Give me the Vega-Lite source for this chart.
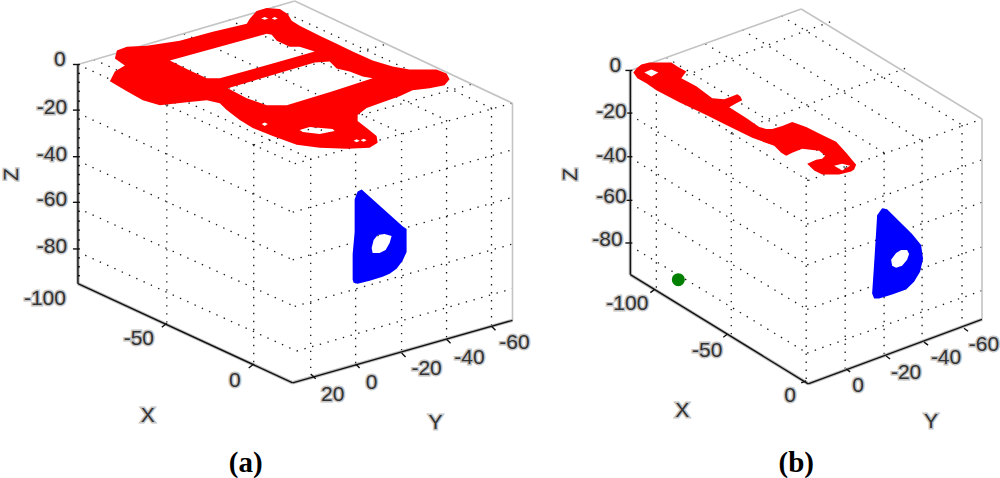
{"$schema":"https://vega.github.io/schema/vega-lite/v6.json","width":1000,"height":478,"padding":0,"autosize":{"type":"fit","contains":"padding"},"background":"white","config":{"view":{"stroke":null}},
"datasets":{
"seg":[
{"kind":"grid","h":78,"v":61,"h2":295,"v2":161},{"kind":"grid","h":78,"v":110,"h2":293,"v2":210},{"kind":"grid","h":78,"v":158,"h2":293,"v2":258},{"kind":"grid","h":78,"v":206,"h2":295,"v2":305},{"kind":"grid","h":78,"v":250,"h2":297,"v2":350},
{"kind":"grid","h":295,"v":161,"h2":513,"v2":100},{"kind":"grid","h":293,"v":210,"h2":513,"v2":147},{"kind":"grid","h":293,"v":258,"h2":513,"v2":195},{"kind":"grid","h":295,"v":305,"h2":513,"v2":242},{"kind":"grid","h":297,"v":350,"h2":513,"v2":287},
{"kind":"grid","h":167,"v":102,"h2":167,"v2":322},{"kind":"grid","h":254,"v":142,"h2":254,"v2":363},{"kind":"grid","h":311,"v":156,"h2":311,"v2":373},{"kind":"grid","h":356,"v":143,"h2":356,"v2":363},{"kind":"grid","h":402,"v":130,"h2":402,"v2":352},{"kind":"grid","h":447,"v":117,"h2":447,"v2":338},{"kind":"grid","h":492,"v":105,"h2":492,"v2":325},
{"kind":"grid","h":167,"v":102,"h2":385,"v2":41},{"kind":"grid","h":254,"v":142,"h2":472,"v2":81},{"kind":"grid","h":94,"v":56,"h2":311,"v2":156},{"kind":"grid","h":139,"v":43,"h2":356,"v2":143},{"kind":"grid","h":184,"v":30,"h2":402,"v2":130},{"kind":"grid","h":229,"v":16,"h2":447,"v2":117},{"kind":"grid","h":273,"v":3,"h2":492,"v2":105},
{"kind":"grid","h":631,"v":67,"h2":809,"v2":178},{"kind":"grid","h":631,"v":112,"h2":808,"v2":222},{"kind":"grid","h":631,"v":155,"h2":808,"v2":263},{"kind":"grid","h":631,"v":201,"h2":808,"v2":308},{"kind":"grid","h":631,"v":244,"h2":808,"v2":352},
{"kind":"grid","h":809,"v":178,"h2":983,"v2":116},{"kind":"grid","h":808,"v":222,"h2":983,"v2":157},{"kind":"grid","h":808,"v":263,"h2":983,"v2":200},{"kind":"grid","h":808,"v":308,"h2":983,"v2":245},{"kind":"grid","h":808,"v":352,"h2":983,"v2":289},
{"kind":"grid","h":657,"v":83,"h2":657,"v2":288},{"kind":"grid","h":732,"v":130,"h2":732,"v2":333},{"kind":"grid","h":807,"v":175,"h2":807,"v2":380},{"kind":"grid","h":846,"v":165,"h2":846,"v2":368},{"kind":"grid","h":885,"v":150,"h2":885,"v2":355},{"kind":"grid","h":923,"v":138,"h2":923,"v2":341},{"kind":"grid","h":963,"v":122,"h2":963,"v2":327},
{"kind":"grid","h":657,"v":83,"h2":831,"v2":18},{"kind":"grid","h":732,"v":130,"h2":906,"v2":65},{"kind":"grid","h":667,"v":54,"h2":846,"v2":165},{"kind":"grid","h":706,"v":40,"h2":885,"v2":150},{"kind":"grid","h":743,"v":26,"h2":923,"v2":138},{"kind":"grid","h":782,"v":12,"h2":963,"v2":122},
{"kind":"back","h":78,"v":61,"h2":295,"v2":-3},{"kind":"back","h":295,"v":-3,"h2":513,"v2":100},{"kind":"back","h":513,"v":100,"h2":513,"v2":319},
{"kind":"back","h":631,"v":67,"h2":802,"v2":5},{"kind":"back","h":802,"v":5,"h2":983,"v2":116},{"kind":"back","h":983,"v":116,"h2":983,"v2":318},
{"kind":"axis","h":78,"v":61,"h2":78,"v2":282},{"kind":"axis","h":78,"v":282,"h2":293,"v2":382},{"kind":"axis","h":293,"v":382,"h2":513,"v2":319},
{"kind":"axis","h":631,"v":67,"h2":631,"v2":273},{"kind":"axis","h":631,"v":273,"h2":809,"v2":383},{"kind":"axis","h":809,"v":383,"h2":983,"v2":318},
{"kind":"tick","h":167,"v":322,"h2":162,"v2":326},{"kind":"tick","h":254,"v":363,"h2":249,"v2":367},{"kind":"tick","h":311,"v":373,"h2":316,"v2":378},{"kind":"tick","h":356,"v":363,"h2":360,"v2":367},{"kind":"tick","h":402,"v":352,"h2":406,"v2":356},{"kind":"tick","h":447,"v":338,"h2":451,"v2":342},{"kind":"tick","h":492,"v":325,"h2":496,"v2":329},
{"kind":"tick","h":655,"v":288,"h2":651,"v2":291},{"kind":"tick","h":728,"v":333,"h2":724,"v2":336},{"kind":"tick","h":807,"v":380,"h2":802,"v2":382},{"kind":"tick","h":847,"v":368,"h2":851,"v2":371},{"kind":"tick","h":887,"v":355,"h2":891,"v2":358},{"kind":"tick","h":925,"v":341,"h2":929,"v2":344},{"kind":"tick","h":965,"v":327,"h2":969,"v2":330},
{"kind":"tick","h":73,"v":61,"h2":80,"v2":61},{"kind":"tick","h":73,"v":107,"h2":80,"v2":107},{"kind":"tick","h":73,"v":154,"h2":80,"v2":154},{"kind":"tick","h":73,"v":200,"h2":80,"v2":200},{"kind":"tick","h":73,"v":247,"h2":80,"v2":247},
{"kind":"tick","h":78,"v":70,"h2":80,"v2":70},{"kind":"tick","h":78,"v":79,"h2":80,"v2":79},{"kind":"tick","h":78,"v":88,"h2":80,"v2":88},{"kind":"tick","h":78,"v":98,"h2":80,"v2":98},{"kind":"tick","h":78,"v":116,"h2":80,"v2":116},{"kind":"tick","h":78,"v":126,"h2":80,"v2":126},{"kind":"tick","h":78,"v":135,"h2":80,"v2":135},{"kind":"tick","h":78,"v":145,"h2":80,"v2":145},{"kind":"tick","h":78,"v":163,"h2":80,"v2":163},{"kind":"tick","h":78,"v":172,"h2":80,"v2":172},{"kind":"tick","h":78,"v":182,"h2":80,"v2":182},{"kind":"tick","h":78,"v":191,"h2":80,"v2":191},{"kind":"tick","h":78,"v":209,"h2":80,"v2":209},{"kind":"tick","h":78,"v":219,"h2":80,"v2":219},{"kind":"tick","h":78,"v":228,"h2":80,"v2":228},{"kind":"tick","h":78,"v":238,"h2":80,"v2":238},{"kind":"tick","h":78,"v":256,"h2":80,"v2":256},{"kind":"tick","h":78,"v":265,"h2":80,"v2":265},{"kind":"tick","h":78,"v":274,"h2":80,"v2":274},
{"kind":"tick","h":626,"v":67,"h2":633,"v2":67},{"kind":"tick","h":626,"v":110,"h2":633,"v2":110},{"kind":"tick","h":626,"v":154,"h2":633,"v2":154},{"kind":"tick","h":626,"v":198,"h2":633,"v2":198},{"kind":"tick","h":626,"v":241,"h2":633,"v2":241}
],
"shape":[
{"part":"red1","i":0,"h":250,"v":15},{"part":"red1","i":1,"h":257,"v":7},{"part":"red1","i":2,"h":267,"v":4},{"part":"red1","i":3,"h":280,"v":5},{"part":"red1","i":4,"h":288,"v":10},{"part":"red1","i":5,"h":292,"v":17},{"part":"red1","i":6,"h":300,"v":22},{"part":"red1","i":7,"h":320,"v":32},{"part":"red1","i":8,"h":337,"v":40},{"part":"red1","i":9,"h":353,"v":48},{"part":"red1","i":10,"h":373,"v":57},{"part":"red1","i":11,"h":393,"v":63},{"part":"red1","i":12,"h":410,"v":66},{"part":"red1","i":13,"h":437,"v":66},{"part":"red1","i":14,"h":447,"v":70},{"part":"red1","i":15,"h":450,"v":76},{"part":"red1","i":16,"h":445,"v":82},{"part":"red1","i":17,"h":430,"v":85},{"part":"red1","i":18,"h":413,"v":87},{"part":"red1","i":19,"h":400,"v":93},{"part":"red1","i":20,"h":383,"v":99},{"part":"red1","i":21,"h":367,"v":105},{"part":"red1","i":22,"h":358,"v":112},{"part":"red1","i":23,"h":358,"v":118},{"part":"red1","i":24,"h":367,"v":125},{"part":"red1","i":25,"h":377,"v":133},{"part":"red1","i":26,"h":378,"v":140},{"part":"red1","i":27,"h":370,"v":145},{"part":"red1","i":28,"h":347,"v":146},{"part":"red1","i":29,"h":320,"v":145},{"part":"red1","i":30,"h":297,"v":142},{"part":"red1","i":31,"h":273,"v":133},{"part":"red1","i":32,"h":253,"v":125},{"part":"red1","i":33,"h":240,"v":117},{"part":"red1","i":34,"h":227,"v":107},{"part":"red1","i":35,"h":220,"v":100},{"part":"red1","i":36,"h":207,"v":97},{"part":"red1","i":37,"h":187,"v":99},{"part":"red1","i":38,"h":160,"v":102},{"part":"red1","i":39,"h":143,"v":97},{"part":"red1","i":40,"h":127,"v":88},{"part":"red1","i":41,"h":110,"v":78},{"part":"red1","i":42,"h":115,"v":68},{"part":"red1","i":43,"h":125,"v":62},{"part":"red1","i":44,"h":115,"v":55},{"part":"red1","i":45,"h":117,"v":47},{"part":"red1","i":46,"h":127,"v":43},{"part":"red1","i":47,"h":147,"v":42},{"part":"red1","i":48,"h":180,"v":37},{"part":"red1","i":49,"h":213,"v":28},{"part":"red1","i":50,"h":247,"v":20},{"part":"red1","i":51,"h":250,"v":15},
{"part":"red1","i":52,"h":170,"v":57},{"part":"red1","i":53,"h":190,"v":67},{"part":"red1","i":54,"h":207,"v":75},{"part":"red1","i":55,"h":220,"v":75},{"part":"red1","i":56,"h":280,"v":58},{"part":"red1","i":57,"h":315,"v":48},{"part":"red1","i":58,"h":300,"v":43},{"part":"red1","i":59,"h":290,"v":43},{"part":"red1","i":60,"h":277,"v":37},{"part":"red1","i":61,"h":272,"v":31},{"part":"red1","i":62,"h":267,"v":30},{"part":"red1","i":63,"h":170,"v":57},{"part":"red1","i":64,"h":250,"v":15},
{"part":"red1","i":65,"h":228,"v":85},{"part":"red1","i":66,"h":247,"v":95},{"part":"red1","i":67,"h":267,"v":102},{"part":"red1","i":68,"h":287,"v":102},{"part":"red1","i":69,"h":333,"v":88},{"part":"red1","i":70,"h":373,"v":75},{"part":"red1","i":71,"h":363,"v":73},{"part":"red1","i":72,"h":350,"v":68},{"part":"red1","i":73,"h":337,"v":65},{"part":"red1","i":74,"h":330,"v":58},{"part":"red1","i":75,"h":315,"v":59},{"part":"red1","i":76,"h":228,"v":85},{"part":"red1","i":77,"h":250,"v":15},
{"part":"red1","i":78,"h":300,"v":127},{"part":"red1","i":79,"h":303,"v":129},{"part":"red1","i":80,"h":320,"v":131},{"part":"red1","i":81,"h":335,"v":128},{"part":"red1","i":82,"h":333,"v":126},{"part":"red1","i":83,"h":310,"v":124},{"part":"red1","i":84,"h":300,"v":127},{"part":"red1","i":85,"h":250,"v":15},
{"part":"red1","i":86,"h":261.5,"v":14.5},{"part":"red1","i":87,"h":265,"v":16},{"part":"red1","i":88,"h":268.5,"v":14.5},{"part":"red1","i":89,"h":265,"v":13},{"part":"red1","i":90,"h":261.5,"v":14.5},{"part":"red1","i":91,"h":250,"v":15},
{"part":"red1","i":92,"h":272,"v":14.5},{"part":"red1","i":93,"h":275,"v":16},{"part":"red1","i":94,"h":278,"v":14.5},{"part":"red1","i":95,"h":275,"v":13},{"part":"red1","i":96,"h":272,"v":14.5},{"part":"red1","i":97,"h":250,"v":15},
{"part":"red1","i":98,"h":262,"v":121},{"part":"red1","i":99,"h":265,"v":123},{"part":"red1","i":100,"h":268,"v":121},{"part":"red1","i":101,"h":265,"v":119.5},{"part":"red1","i":102,"h":262,"v":121},{"part":"red1","i":103,"h":250,"v":15},
{"part":"red1","i":104,"h":354,"v":138},{"part":"red1","i":105,"h":357,"v":139.5},{"part":"red1","i":106,"h":360,"v":138},{"part":"red1","i":107,"h":357,"v":136.5},{"part":"red1","i":108,"h":354,"v":138},{"part":"red1","i":109,"h":250,"v":15},
{"part":"red1","i":110,"h":361,"v":137.5},{"part":"red1","i":111,"h":364,"v":139},{"part":"red1","i":112,"h":367,"v":137.5},{"part":"red1","i":113,"h":364,"v":136},{"part":"red1","i":114,"h":361,"v":137.5},{"part":"red1","i":115,"h":250,"v":15},
{"part":"red2","i":0,"h":634,"v":69},{"part":"red2","i":1,"h":637,"v":65},{"part":"red2","i":2,"h":642,"v":61},{"part":"red2","i":3,"h":650,"v":59},{"part":"red2","i":4,"h":672,"v":59},{"part":"red2","i":5,"h":678,"v":63},{"part":"red2","i":6,"h":687,"v":68},{"part":"red2","i":7,"h":684,"v":72},{"part":"red2","i":8,"h":682,"v":75},{"part":"red2","i":9,"h":697,"v":83},{"part":"red2","i":10,"h":713,"v":95},{"part":"red2","i":11,"h":725,"v":96},{"part":"red2","i":12,"h":733,"v":93},{"part":"red2","i":13,"h":738,"v":91},{"part":"red2","i":14,"h":741,"v":93},{"part":"red2","i":15,"h":743,"v":97},{"part":"red2","i":16,"h":737,"v":100},{"part":"red2","i":17,"h":730,"v":104},{"part":"red2","i":18,"h":747,"v":115},{"part":"red2","i":19,"h":760,"v":124},{"part":"red2","i":20,"h":767,"v":126},{"part":"red2","i":21,"h":773,"v":126},{"part":"red2","i":22,"h":783,"v":123},{"part":"red2","i":23,"h":793,"v":119},{"part":"red2","i":24,"h":807,"v":124},{"part":"red2","i":25,"h":823,"v":132},{"part":"red2","i":26,"h":837,"v":139},{"part":"red2","i":27,"h":847,"v":150},{"part":"red2","i":28,"h":857,"v":162},{"part":"red2","i":29,"h":855,"v":167},{"part":"red2","i":30,"h":852,"v":169},{"part":"red2","i":31,"h":840,"v":172},{"part":"red2","i":32,"h":823,"v":172},{"part":"red2","i":33,"h":815,"v":168},{"part":"red2","i":34,"h":808,"v":161},{"part":"red2","i":35,"h":817,"v":157},{"part":"red2","i":36,"h":823,"v":156},{"part":"red2","i":37,"h":826,"v":153},{"part":"red2","i":38,"h":820,"v":148},{"part":"red2","i":39,"h":803,"v":146},{"part":"red2","i":40,"h":793,"v":150},{"part":"red2","i":41,"h":787,"v":153},{"part":"red2","i":42,"h":782,"v":150},{"part":"red2","i":43,"h":775,"v":143},{"part":"red2","i":44,"h":753,"v":135},{"part":"red2","i":45,"h":727,"v":122},{"part":"red2","i":46,"h":707,"v":112},{"part":"red2","i":47,"h":680,"v":99},{"part":"red2","i":48,"h":657,"v":87},{"part":"red2","i":49,"h":647,"v":80},{"part":"red2","i":50,"h":638,"v":75},{"part":"red2","i":51,"h":634,"v":69},
{"part":"red2","i":52,"h":645,"v":69},{"part":"red2","i":53,"h":652,"v":73},{"part":"red2","i":54,"h":659,"v":69},{"part":"red2","i":55,"h":652,"v":66},{"part":"red2","i":56,"h":645,"v":69},{"part":"red2","i":57,"h":634,"v":69},
{"part":"red2","i":58,"h":835,"v":163},{"part":"red2","i":59,"h":843,"v":168},{"part":"red2","i":60,"h":851,"v":163},{"part":"red2","i":61,"h":843,"v":161},{"part":"red2","i":62,"h":835,"v":163},{"part":"red2","i":63,"h":634,"v":69},
{"part":"blue1","i":0,"h":362,"v":187},{"part":"blue1","i":1,"h":403,"v":224},{"part":"blue1","i":2,"h":407,"v":227},{"part":"blue1","i":3,"h":407,"v":250},{"part":"blue1","i":4,"h":403,"v":259},{"part":"blue1","i":5,"h":397,"v":267},{"part":"blue1","i":6,"h":390,"v":272},{"part":"blue1","i":7,"h":383,"v":275},{"part":"blue1","i":8,"h":370,"v":279},{"part":"blue1","i":9,"h":358,"v":282},{"part":"blue1","i":10,"h":354,"v":281},{"part":"blue1","i":11,"h":353,"v":278},{"part":"blue1","i":12,"h":353,"v":252},{"part":"blue1","i":13,"h":355,"v":230},{"part":"blue1","i":14,"h":355,"v":197},{"part":"blue1","i":15,"h":358,"v":189},{"part":"blue1","i":16,"h":362,"v":187},
{"part":"blue1","i":17,"h":385,"v":232},{"part":"blue1","i":18,"h":378,"v":233},{"part":"blue1","i":19,"h":374,"v":238},{"part":"blue1","i":20,"h":372,"v":246},{"part":"blue1","i":21,"h":373,"v":251},{"part":"blue1","i":22,"h":380,"v":251},{"part":"blue1","i":23,"h":386,"v":248},{"part":"blue1","i":24,"h":390,"v":241},{"part":"blue1","i":25,"h":392,"v":234},{"part":"blue1","i":26,"h":385,"v":232},{"part":"blue1","i":27,"h":362,"v":187},
{"part":"blue2","i":0,"h":883,"v":206},{"part":"blue2","i":1,"h":888,"v":207},{"part":"blue2","i":2,"h":913,"v":232},{"part":"blue2","i":3,"h":922,"v":243},{"part":"blue2","i":4,"h":924,"v":257},{"part":"blue2","i":5,"h":921,"v":270},{"part":"blue2","i":6,"h":915,"v":280},{"part":"blue2","i":7,"h":907,"v":288},{"part":"blue2","i":8,"h":893,"v":293},{"part":"blue2","i":9,"h":880,"v":297},{"part":"blue2","i":10,"h":875,"v":297},{"part":"blue2","i":11,"h":873,"v":292},{"part":"blue2","i":12,"h":875,"v":262},{"part":"blue2","i":13,"h":877,"v":230},{"part":"blue2","i":14,"h":878,"v":213},{"part":"blue2","i":15,"h":883,"v":206},
{"part":"blue2","i":16,"h":892,"v":258},{"part":"blue2","i":17,"h":893,"v":264},{"part":"blue2","i":18,"h":897,"v":266},{"part":"blue2","i":19,"h":903,"v":264},{"part":"blue2","i":20,"h":908,"v":258},{"part":"blue2","i":21,"h":910,"v":252},{"part":"blue2","i":22,"h":908,"v":248},{"part":"blue2","i":23,"h":902,"v":248},{"part":"blue2","i":24,"h":897,"v":251},{"part":"blue2","i":25,"h":892,"v":258},{"part":"blue2","i":26,"h":883,"v":206}
],
"labels":[
{"t":"0","h":60,"v":56},{"t":"-20","h":52,"v":105},{"t":"-40","h":52,"v":152},{"t":"-60","h":52,"v":198},{"t":"-80","h":52,"v":245},{"t":"-100","h":45,"v":297},{"t":"-50","h":139,"v":338},{"t":"0","h":235,"v":380},{"t":"X","h":148,"v":415},{"t":"20","h":333,"v":394},{"t":"0","h":372,"v":382},{"t":"-20","h":427,"v":368},{"t":"-40","h":470,"v":357},{"t":"-60","h":515,"v":342},{"t":"Y","h":436,"v":423},
{"t":"0","h":616,"v":63},{"t":"-20","h":612,"v":109},{"t":"-40","h":612,"v":153},{"t":"-60","h":612,"v":195},{"t":"-80","h":608,"v":238},{"t":"-100","h":628,"v":303},{"t":"-50","h":708,"v":350},{"t":"0","h":791,"v":395},{"t":"X","h":683,"v":410},{"t":"0","h":859,"v":385},{"t":"-20","h":907,"v":372},{"t":"-40","h":947,"v":357},{"t":"-60","h":985,"v":344},{"t":"Y","h":932,"v":422}
],
"zlabels":[{"t":"Z","h":12,"v":172},{"t":"Z","h":572,"v":172}],
"caps":[{"t":"(a)","h":246,"v":463},{"t":"(b)","h":797,"v":463}],
"dot":[{"h":679,"v":278}]
},
"encoding":{"x":{"field":"h","type":"quantitative","scale":{"domain":[0,1000],"nice":false,"zero":false},"axis":null},"y":{"field":"v","type":"quantitative","scale":{"domain":[478,0],"nice":false,"zero":false},"axis":null}},
"layer":[
{"data":{"name":"seg"},"transform":[{"filter":"datum.kind==='grid'"}],"mark":{"type":"rule","color":"#1a1a1a","strokeWidth":1.3,"strokeDash":[1.4,6.6]},"encoding":{"x2":{"field":"h2"},"y2":{"field":"v2"}}},
{"data":{"name":"seg"},"transform":[{"filter":"datum.kind==='back'"}],"mark":{"type":"rule","color":"#c4c4c4","strokeWidth":1.6},"encoding":{"x2":{"field":"h2"},"y2":{"field":"v2"}}},
{"data":{"name":"seg"},"transform":[{"filter":"datum.kind==='axis'"}],"mark":{"type":"rule","color":"#c0c0c0","strokeWidth":3.5},"encoding":{"x2":{"field":"h2"},"y2":{"field":"v2"}}},
{"data":{"name":"seg"},"transform":[{"filter":"datum.kind==='axis'||datum.kind==='tick'"}],"mark":{"type":"rule","color":"#111111","strokeWidth":1.4},"encoding":{"x2":{"field":"h2"},"y2":{"field":"v2"}}},
{"data":{"name":"shape"},"transform":[{"filter":"datum.part==='red1'||datum.part==='red2'"}],"mark":{"type":"line","fill":"#ff0000","stroke":null,"strokeWidth":0},"encoding":{"detail":{"field":"part"},"order":{"field":"i","type":"quantitative"}}},
{"data":{"name":"shape"},"transform":[{"filter":"datum.part==='blue1'||datum.part==='blue2'"}],"mark":{"type":"line","fill":"#0000ff","stroke":null,"strokeWidth":0},"encoding":{"detail":{"field":"part"},"order":{"field":"i","type":"quantitative"}}},
{"data":{"name":"dot"},"mark":{"type":"point","filled":true,"color":"#008000","opacity":1,"size":170}},
{"data":{"name":"labels"},"mark":{"type":"text","font":"Liberation Sans","fontSize":21,"align":"center","baseline":"middle","color":"#c4c4c4","stroke":"#c4c4c4","strokeWidth":3},"encoding":{"text":{"field":"t"}}},
{"data":{"name":"labels"},"mark":{"type":"text","font":"Liberation Sans","fontSize":21,"align":"center","baseline":"middle","color":"#333333"},"encoding":{"text":{"field":"t"}}},
{"data":{"name":"zlabels"},"mark":{"type":"text","font":"Liberation Sans","fontSize":21,"align":"center","baseline":"middle","angle":270,"color":"#c4c4c4","stroke":"#c4c4c4","strokeWidth":3},"encoding":{"text":{"field":"t"}}},
{"data":{"name":"zlabels"},"mark":{"type":"text","font":"Liberation Sans","fontSize":21,"align":"center","baseline":"middle","angle":270,"color":"#333333"},"encoding":{"text":{"field":"t"}}},
{"data":{"name":"caps"},"mark":{"type":"text","font":"Liberation Serif","fontWeight":"bold","fontSize":29,"align":"center","baseline":"middle","color":"#000000"},"encoding":{"text":{"field":"t"}}}
]}
